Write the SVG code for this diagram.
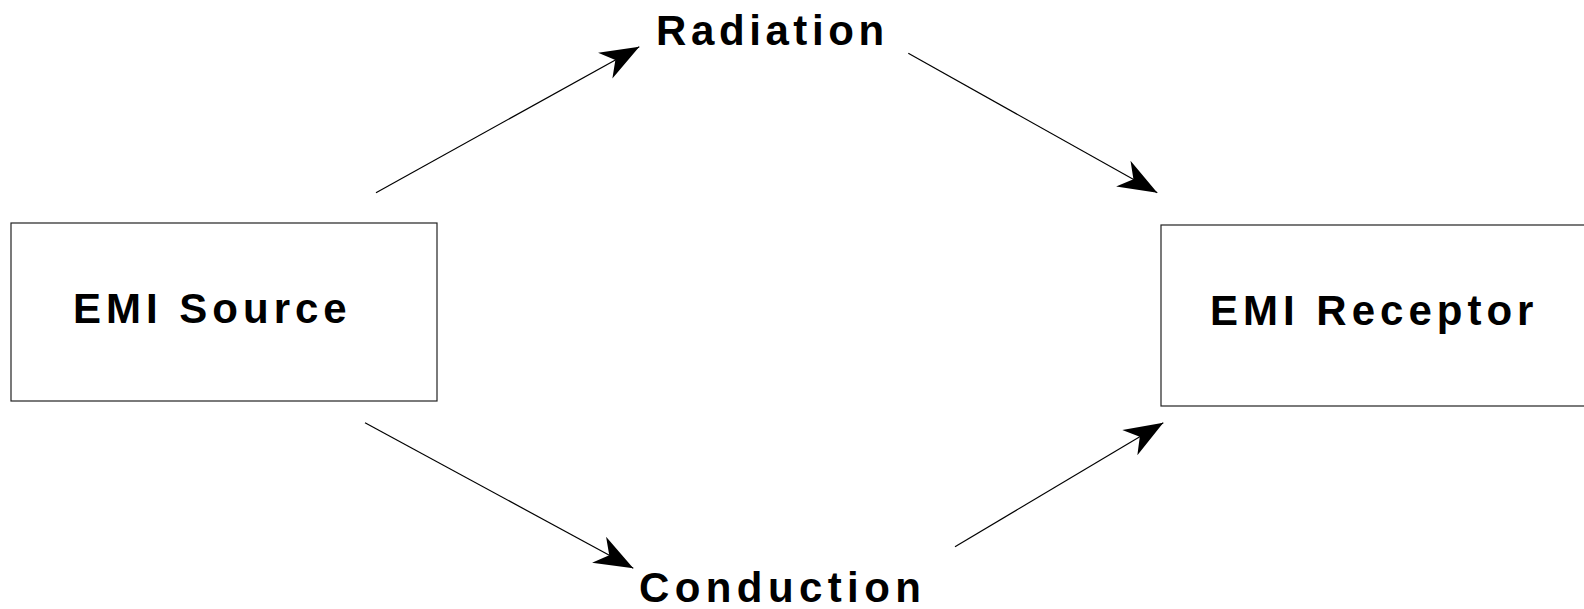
<svg xmlns="http://www.w3.org/2000/svg" width="1584" height="609" viewBox="0 0 1584 609">
<style>
.box{fill:#fff;stroke:#222;stroke-width:1.2}
.lbl{font-family:"Liberation Sans",Arial,sans-serif;font-weight:bold;font-size:42px;letter-spacing:5px;fill:#000}
.conn{stroke:#000;stroke-width:1.2;fill:none}
</style>
<defs>
<marker id="arr" markerUnits="userSpaceOnUse" markerWidth="40" markerHeight="32" viewBox="-37 -15 38 30" refX="0" refY="0" orient="auto" overflow="visible">
<path d="M0,0 L-37,-14 L-26,0 L-37,14 Z" fill="#000"/>
</marker>
</defs>
<rect width="1584" height="609" fill="#fff"/>
<g id="source">
<rect class="box" x="11" y="223" width="426" height="178"/>
<text class="lbl" x="73" y="323">EMI Source</text>
</g>
<g id="receptor">
<rect class="box" x="1161" y="225" width="440" height="181"/>
<text class="lbl" x="1210" y="325">EMI Receptor</text>
</g>
<g id="radiation">
<text class="lbl" x="656" y="45" style="letter-spacing:4.6px">Radiation</text>
</g>
<g id="conduction">
<text class="lbl" x="639" y="602" style="letter-spacing:5.4px">Conduction</text>
</g>
<g id="connectors">
<line class="conn" x1="376" y1="192.7" x2="639.3" y2="46.7" marker-end="url(#arr)"/>
<line class="conn" x1="908.3" y1="53.3" x2="1157.3" y2="192.7" marker-end="url(#arr)"/>
<line class="conn" x1="365" y1="422.7" x2="633.3" y2="568.3" marker-end="url(#arr)"/>
<line class="conn" x1="955" y1="546.7" x2="1163.3" y2="422.7" marker-end="url(#arr)"/>
</g>
</svg>
